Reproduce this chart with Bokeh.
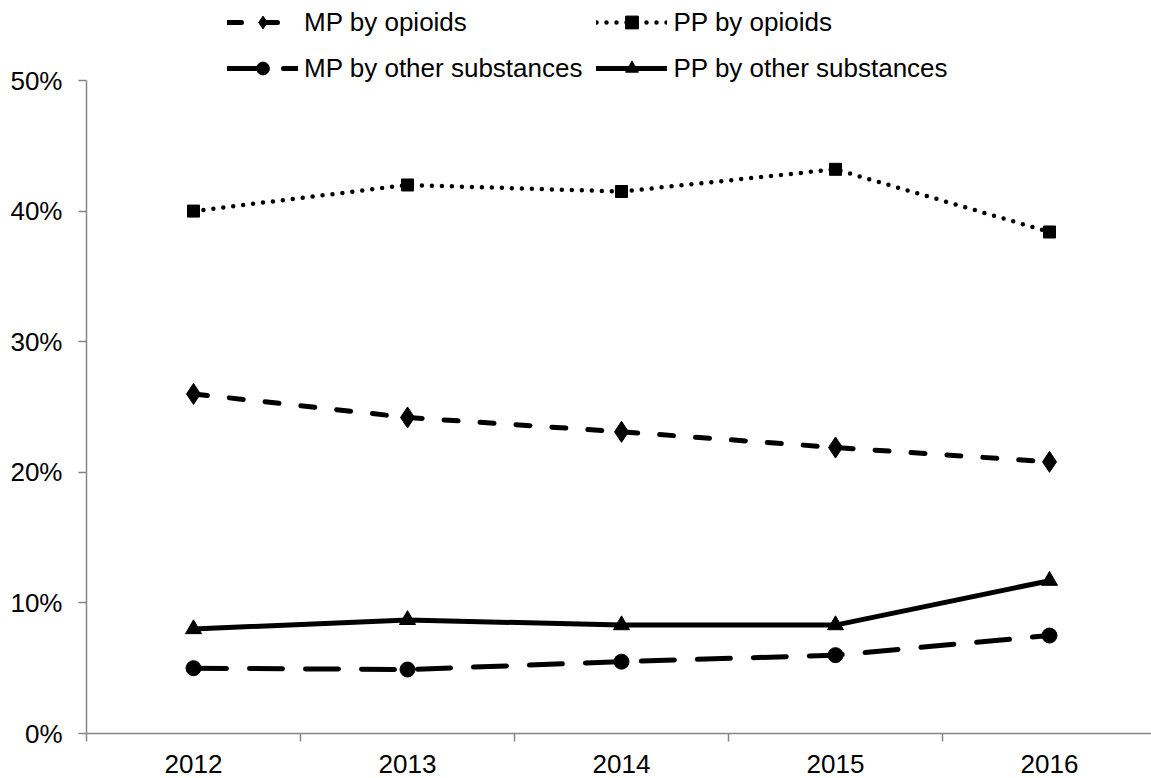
from bokeh.plotting import figure
from bokeh.models import (Range1d, FixedTicker, PrintfTickFormatter, Legend, LegendItem,
                          ColumnDataSource)
from bokeh.embed import file_html
from bokeh.resources import INLINE

# ---- data ----
years = ["2012", "2013", "2014", "2015", "2016"]
mp_opioids = [26.0, 24.2, 23.1, 21.9, 20.8]
pp_opioids = [40.0, 42.0, 41.5, 43.2, 38.4]
mp_other = [5.0, 4.9, 5.5, 6.0, 7.5]
pp_other = [8.0, 8.7, 8.3, 8.3, 11.7]
y_ticks = [0, 10, 20, 30, 40, 50]

xpos = list(range(1, len(years) + 1))
bounds = [x - 0.5 for x in xpos] + [xpos[-1] + 0.5]

# ---- layout ----
W, H = 1151, 778
LEFT, BOTTOM = 86, 45
TOP50 = 80            # pixel row of the 50% line
frame_w = W - LEFT
frame_h = H - BOTTOM
pitch = 214.0
ymax = 50.0 * frame_h / (frame_h - TOP50)

p = figure(width=W, height=H, output_backend="svg", toolbar_location=None,
           x_range=Range1d(0.5, 0.5 + frame_w / pitch), y_range=Range1d(0, ymax),
           min_border_left=LEFT, min_border_top=0, min_border_right=0,
           min_border_bottom=BOTTOM)
p.outline_line_color = None
p.grid.visible = False
p.background_fill_color = "white"
p.border_fill_color = "white"

FONT = "Liberation Sans"
AX = "#868686"

# x axis
xa = p.xaxis[0]
xa.ticker = FixedTicker(ticks=xpos, minor_ticks=bounds)
xa.major_label_overrides = {x: y for x, y in zip(xpos, years)}
xa.major_tick_line_color = None
xa.major_tick_out = 0
xa.major_tick_in = 0
xa.minor_tick_line_color = AX
xa.minor_tick_line_width = 1.5
xa.minor_tick_out = 8
xa.minor_tick_in = 0
xa.axis_line_color = AX
xa.axis_line_width = 1.5
xa.major_label_text_font = FONT
xa.major_label_text_font_size = "26px"
xa.major_label_text_color = "black"
xa.major_label_standoff = 13

# y axis
ya = p.yaxis[0]
ya.ticker = FixedTicker(ticks=y_ticks, minor_ticks=[])
ya.formatter = PrintfTickFormatter(format="%d%%")
ya.bounds = (y_ticks[0], y_ticks[-1])
ya.major_tick_line_color = AX
ya.major_tick_line_width = 1.5
ya.major_tick_out = 8
ya.major_tick_in = 0
ya.minor_tick_line_color = None
ya.axis_line_color = AX
ya.axis_line_width = 1.5
ya.major_label_text_font = FONT
ya.major_label_text_font_size = "26px"
ya.major_label_text_color = "black"
ya.major_label_standoff = 16

series = [
    ("MP by opioids", mp_opioids, "14 22", 5, "diamond", 21),
    ("PP by opioids", pp_opioids, "0 10", 4.5, "square", 12),
    ("MP by other substances", mp_other, "33 23", 5, "circle", 15),
    ("PP by other substances", pp_other, "solid", 5, "triangle", 16),
]

items = []
for name, vals, dash, lw, marker, size in series:
    src = ColumnDataSource(dict(x=xpos, y=vals))
    lr = p.line("x", "y", source=src, line_color="black", line_width=lw,
                line_dash=dash, line_cap="round", line_join="round")
    sr = p.scatter("x", "y", source=src, marker=marker, size=size,
                   fill_color="black", line_color="black", line_width=1)
    items.append(LegendItem(label=name, renderers=[lr, sr]))

legend = Legend(items=items, orientation="horizontal", ncols=2,
                location=(141, frame_h - 84), padding=0, margin=0, spacing=14,
                glyph_width=71, glyph_height=32, label_height=32,
                label_standoff=6, label_text_font=FONT,
                label_text_font_size="26px", label_text_color="black",
                border_line_color=None, background_fill_alpha=0)
p.add_layout(legend, "center")

open("out.html", "w").write(file_html(p, INLINE))
